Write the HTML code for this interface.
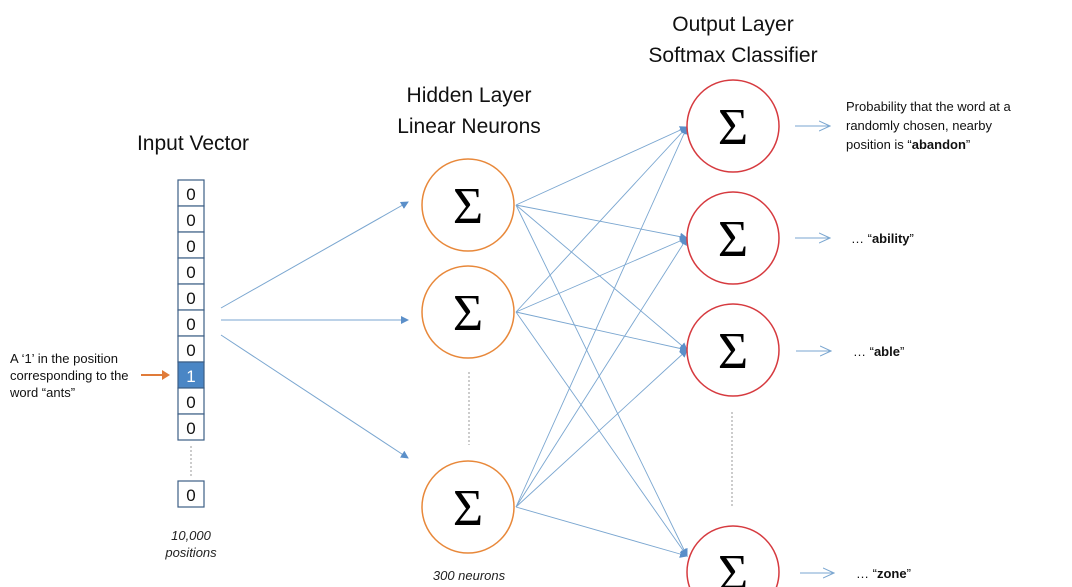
<!DOCTYPE html>
<html><head><meta charset="utf-8"><style>
html,body{margin:0;background:#fff;width:1072px;height:587px;overflow:hidden;}
svg{display:block;font-family:"Liberation Sans",sans-serif;}
.t{font-size:21px;fill:#111;}
.s{font-size:13px;fill:#111;}
.sig{font-family:"Liberation Serif",serif;font-size:52px;fill:#000;}
</style></head><body>
<svg width="1072" height="587" viewBox="0 0 1072 587" xmlns="http://www.w3.org/2000/svg">
<defs>
<marker id="a" markerWidth="8" markerHeight="8" refX="7" refY="4" orient="auto" markerUnits="userSpaceOnUse"><path d="M0,0 L8,4 L0,8 z" fill="#5b8fc9"/></marker>
<marker id="o" markerWidth="12" markerHeight="12" refX="11" refY="6" orient="auto" markerUnits="userSpaceOnUse"><path d="M0,1 L11,6 L0,11" fill="none" stroke="#7aa6d0" stroke-width="1"/></marker>
</defs>
<text class="t" x="193" y="150" text-anchor="middle">Input Vector</text>
<text class="t" x="469" y="102" text-anchor="middle">Hidden Layer</text>
<text class="t" x="469" y="133" text-anchor="middle">Linear Neurons</text>
<text class="t" x="733" y="31" text-anchor="middle">Output Layer</text>
<text class="t" x="733" y="62" text-anchor="middle">Softmax Classifier</text>
<g stroke="#3d5f86" stroke-width="1.2" fill="#fff">
<rect x="178" y="180" width="26" height="26"/><rect x="178" y="206" width="26" height="26"/>
<rect x="178" y="232" width="26" height="26"/><rect x="178" y="258" width="26" height="26"/>
<rect x="178" y="284" width="26" height="26"/><rect x="178" y="310" width="26" height="26"/>
<rect x="178" y="336" width="26" height="26"/><rect x="178" y="362" width="26" height="26" fill="#4a86c5"/>
<rect x="178" y="388" width="26" height="26"/><rect x="178" y="414" width="26" height="26"/>
<rect x="178" y="481" width="26" height="26"/>
</g>
<g font-size="17" text-anchor="middle" fill="#111">
<text x="191" y="200">0</text><text x="191" y="226">0</text><text x="191" y="252">0</text><text x="191" y="278">0</text><text x="191" y="304">0</text><text x="191" y="330">0</text><text x="191" y="356">0</text><text x="191" y="382" fill="#fff">1</text><text x="191" y="408">0</text><text x="191" y="434">0</text><text x="191" y="501">0</text>
</g>
<line x1="191" y1="446" x2="191" y2="476" stroke="#999" stroke-dasharray="2,2"/>
<text x="191" y="540" text-anchor="middle" font-size="13" font-style="italic" fill="#222">10,000</text>
<text x="191" y="557" text-anchor="middle" font-size="13" font-style="italic" fill="#222">positions</text>
<text class="s" x="10" y="363">A ‘1’ in the position</text>
<text class="s" x="10" y="380">corresponding to the</text>
<text class="s" x="10" y="397">word “ants”</text>
<line x1="141" y1="375" x2="168" y2="375" stroke="#e07b39" stroke-width="2"/>
<path d="M162,370 L170,375 L162,380z" fill="#e07b39"/>
<g stroke="#7aa6d0" stroke-width="1" marker-end="url(#a)">
<line x1="221" y1="308" x2="408" y2="202"/>
<line x1="221" y1="320" x2="408" y2="320"/>
<line x1="221" y1="335" x2="408" y2="458"/>
</g>
<g stroke="#7aa6d0" stroke-width="0.9" marker-end="url(#a)">
<line x1="516" y1="205" x2="687" y2="127"/><line x1="516" y1="205" x2="687" y2="238"/><line x1="516" y1="205" x2="687" y2="350"/><line x1="516" y1="205" x2="687" y2="556"/>
<line x1="516" y1="312" x2="687" y2="127"/><line x1="516" y1="312" x2="687" y2="238"/><line x1="516" y1="312" x2="687" y2="350"/><line x1="516" y1="312" x2="687" y2="556"/>
<line x1="516" y1="507" x2="687" y2="127"/><line x1="516" y1="507" x2="687" y2="238"/><line x1="516" y1="507" x2="687" y2="350"/><line x1="516" y1="507" x2="687" y2="556"/>
</g>
<line x1="469" y1="372" x2="469" y2="445" stroke="#999" stroke-dasharray="2,2"/>
<line x1="732" y1="412" x2="732" y2="507" stroke="#999" stroke-dasharray="2,2"/>
<g fill="#fff" stroke="#e8883a" stroke-width="1.5">
<circle cx="468" cy="205" r="46"/><circle cx="468" cy="312" r="46"/><circle cx="468" cy="507" r="46"/>
</g>
<g fill="#fff" stroke="#d63a3f" stroke-width="1.5">
<circle cx="733" cy="126" r="46"/><circle cx="733" cy="238" r="46"/><circle cx="733" cy="350" r="46"/><circle cx="733" cy="572" r="46"/>
</g>
<g class="sig" text-anchor="middle">
<text x="468" y="223">Σ</text><text x="468" y="330">Σ</text><text x="468" y="525">Σ</text>
<text x="733" y="144">Σ</text><text x="733" y="256">Σ</text><text x="733" y="368">Σ</text><text x="733" y="590">Σ</text>
</g>
<text x="469" y="580" text-anchor="middle" font-size="13" font-style="italic" fill="#222">300 neurons</text>
<g stroke="#7aa6d0" stroke-width="1" marker-end="url(#o)">
<line x1="795" y1="126" x2="830" y2="126"/><line x1="795" y1="238" x2="830" y2="238"/><line x1="796" y1="351" x2="831" y2="351"/><line x1="800" y1="573" x2="834" y2="573"/>
</g>
<text class="s" x="846" y="111">Probability that the word at a</text>
<text class="s" x="846" y="130">randomly chosen, nearby</text>
<text class="s" x="846" y="149">position is “<tspan font-weight="bold">abandon</tspan>”</text>
<text class="s" x="851" y="243">… “<tspan font-weight="bold">ability</tspan>”</text>
<text class="s" x="853" y="356">… “<tspan font-weight="bold">able</tspan>”</text>
<text class="s" x="856" y="578">… “<tspan font-weight="bold">zone</tspan>”</text>
</svg>
</body></html>
